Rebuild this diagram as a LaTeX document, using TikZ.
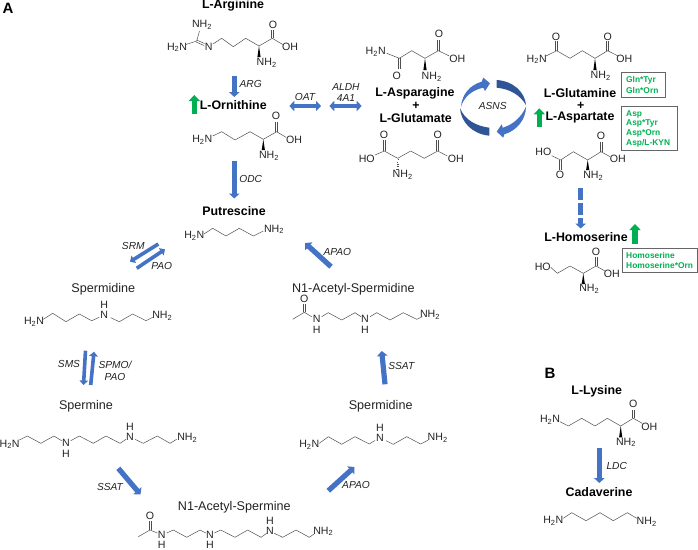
\documentclass[tikz,border=0pt]{standalone}
\usepackage{fontspec}
\setmainfont{Liberation Sans}
\usetikzlibrary{arrows.meta}
\definecolor{rxnblue}{HTML}{4472C4}
\definecolor{darkblue}{HTML}{2F5597}
\definecolor{upgreen}{HTML}{00B050}
\definecolor{inkgray}{HTML}{222222}
\newcommand{\Htwo}{H\textsubscript{2}N}
\newcommand{\NHtwo}{NH\textsubscript{2}}
\tikzset{
  bond/.style={draw=inkgray!80,line width=0.5pt,line join=round},
  wedgefill/.style={fill=black,draw=none},
  atom/.style={font=\fontsize{10.6}{10.6}\selectfont,text=inkgray,inner sep=0pt,anchor=center},
  cpdbold/.style={font=\fontsize{12.4}{12.4}\selectfont\bfseries,text=black,inner sep=0pt},
  cpd/.style={font=\fontsize{12.6}{12.6}\selectfont,text=inkgray,inner sep=0pt},
  enz/.style={font=\fontsize{10.2}{10.2}\selectfont\itshape,text=inkgray,inner sep=0pt,align=center},
  panel/.style={font=\fontsize{15}{15}\selectfont\bfseries,inner sep=0pt},
  rxn/.style={draw=rxnblue,line width=5.2pt,-{Triangle[length=5pt,width=10.5pt]}},
  rxnthin/.style={draw=rxnblue,line width=3.6pt,-{Triangle[length=4.5pt,width=8.5pt]}},
  rxnboth/.style={draw=rxnblue,line width=3.6pt,{Triangle[length=5pt,width=10pt]}-{Triangle[length=5pt,width=10pt]}},
  updash/.style={draw=upgreen,line width=5.2pt,-{Triangle[length=6pt,width=11pt]}},
  statbox/.style={draw=black!60,line width=0.7pt},
  stat/.style={font=\fontsize{8.4}{8.4}\selectfont\bfseries,text=upgreen,anchor=west,inner sep=0pt}
}
\newcommand{\rxnarrow}[4][rxn]{%
  \coordinate (#2s) at (#3); \coordinate (#2e) at (#4);
  \draw[#1] (#2s) -- (#2e);}
\newcommand{\wdg}[3]{\fill[wedgefill] (#1,#2) -- (#1-1.6,#3) -- (#1+1.6,#3) -- cycle;}
\newcommand{\hashwdg}[3]{\foreach \t in {0.1,0.3,0.5,0.7,0.9}{\draw[bond,line width=0.45pt] ({#1-1.6*\t},{#2+(#3-#2)*\t}) -- ({#1+1.6*\t},{#2+(#3-#2)*\t});}}
\newcommand{\dbl}[4]{\draw[bond] (#1-1,#2) -- (#3-1,#4); \draw[bond] (#1+1,#2) -- (#3+1,#4);}
\begin{document}
\begin{tikzpicture}[x=1pt,y=-1pt]
\useasboundingbox (0,0) rectangle (698,549);
\node[panel] (panelA) at (8,8) {A};
\node[panel] (panelB) at (550,373) {B};

% L-Arginine
\node[cpdbold] (arg) at (233,5.5) {L-Arginine};
\node[atom] (argn1) at (202,25) {\NHtwo};
\node[atom] (argn2) at (177,47.3) {\Htwo};
\node[atom] (argn3) at (208.7,47.3) {N};
\node[atom] (argo) at (273,25) {O};
\node[atom] (argoh) at (290,47.3) {OH};
\node[atom] (argn4) at (266.7,62.7) {\NHtwo};
\draw[bond] (186,44.5) -- (196.7,41) -- (199.5,31);
\draw[bond] (196.7,40) -- (204.5,43.5) (196.2,42) -- (204,45.5);
\draw[bond] (213,44) -- (221.7,38.3) -- (233.3,46.7) -- (245.7,38.3) -- (259,46) -- (272.3,38.3) -- (282.7,44.5);
\dbl{272.3}{38.3}{272.3}{30}
\wdg{259}{46}{57}

% ARG
\rxnarrow{argarr}{234.3,75.7}{234.3,97}
\node[enz] (argenz) at (250.7,84) {ARG};

% L-Ornithine
\node[cpdbold] (orn) at (233.3,105.5) {L-Ornithine};
\rxnarrow[updash]{ornup}{194.3,113.5}{194.3,95}
\node[atom] (ornn1) at (202.3,140) {\Htwo};
\node[atom] (orno) at (276,116) {O};
\node[atom] (ornoh) at (294,140) {OH};
\node[atom] (ornn2) at (269,156) {\NHtwo};
\draw[bond] (212.7,136) -- (221.7,131.7) -- (235,140) -- (250,131.7) -- (263.3,139.3) -- (276.7,131.7) -- (286,137.3);
\dbl{276.7}{131.7}{276.7}{122}
\wdg{263.3}{139.3}{150}

% OAT / ALDH
\rxnarrow[rxnboth]{oat}{289.3,106}{321,106}
\node[enz] (oatenz) at (305,97.3) {OAT};
\rxnarrow[rxnboth]{aldh}{329.3,106}{361.7,106}
\node[enz] (aldhenz) at (346,92.5) {ALDH\\[1pt]4A1};

% ODC
\rxnarrow{odc}{234.3,160.7}{234.3,198.5}
\node[enz] (odcenz) at (250.7,179.3) {ODC};

% Putrescine
\node[cpdbold] (put) at (234,211) {Putrescine};
\node[atom] (putn1) at (194.3,236) {\Htwo};
\node[atom] (putn2) at (274,229.3) {\NHtwo};
\draw[bond] (204,234) -- (212.7,228.3) -- (226,236) -- (239.3,228.3) -- (253.3,236) -- (263.3,231);

% L-Asparagine
\node[atom] (asnn1) at (375.7,51.7) {\Htwo};
\node[atom] (asno1) at (439,34.3) {O};
\node[atom] (asnoh) at (457.3,59) {OH};
\node[atom] (asno2) at (396.7,75.7) {O};
\node[atom] (asnn2) at (431.7,76.7) {\NHtwo};
\draw[bond] (386.7,53.3) -- (399.3,58.3) -- (411.7,50.7) -- (425,58.3) -- (438.3,50.7) -- (449.3,56);
\dbl{438.3}{50.7}{438.3}{40}
\dbl{399.3}{58.3}{399.3}{69.3}
\wdg{425}{58.3}{70}
\node[cpdbold] (asn) at (415,93.3) {L-Asparagine};
\node[cpdbold] (plus1) at (416,105.7) {+};
\node[cpdbold] (glu) at (415.7,117.7) {L-Glutamate};

% Glutamate
\node[atom] (gluoh1) at (366.7,159) {HO};
\node[atom] (gluoh2) at (455.7,159) {OH};
\node[atom] (gluo1) at (384,135) {O};
\node[atom] (gluo2) at (437.7,135) {O};
\node[atom] (glun) at (402.7,175) {\NHtwo};
\draw[bond] (375,155) -- (384.3,151) -- (397.7,158.3) -- (410.7,151) -- (424.3,158.3) -- (437.7,151) -- (447.3,156);
\dbl{384.3}{151}{384.3}{140}
\dbl{437.7}{151}{437.7}{140}
\hashwdg{397.7}{158.3}{170}

% ASNS cycle
\fill[rxnblue] (461,106.7) .. controls (462,94) and (470,85) .. (481.7,81.7) -- (483.3,77.7) -- (490,83.3) -- (485,91) -- (483.3,87.7) .. controls (472,90) and (464,97) .. cycle;
\fill[darkblue] (460,108.3) .. controls (461,122) and (472,134) .. (489.3,135.7) -- (489.3,127.7) .. controls (476,126) and (465,120) .. cycle;
\fill[darkblue] (496.7,80) .. controls (513,81) and (525,92) .. (526,105) .. controls (520,95) and (510,89) .. (496.7,87.7) -- cycle;
\fill[rxnblue] (526,106.7) .. controls (526,120) and (516,131) .. (504.3,134.3) -- (503.3,137.7) -- (496.7,131.7) -- (501.7,124.3) -- (502.7,127.7) .. controls (512,125) and (521,118) .. cycle;
\node[enz] (asns) at (492.7,105.5) {ASNS};

% L-Glutamine
\node[atom] (glnn1) at (536.7,59.3) {\Htwo};
\node[atom] (glno1) at (556,36.7) {O};
\node[atom] (glno2) at (607.7,36.7) {O};
\node[atom] (glnoh) at (624.3,59.3) {OH};
\node[atom] (glnn2) at (600.7,76) {\NHtwo};
\draw[bond] (546,56) -- (556.7,50.7) -- (570,58.3) -- (582.3,50.7) -- (595,58.3) -- (607.7,50.7) -- (618,56);
\dbl{556.7}{50.7}{556.7}{41}
\dbl{607.7}{50.7}{607.7}{41}
\wdg{595}{58.3}{70}
\node[cpdbold] (gln) at (580,93.3) {L-Glutamine};
\node[cpdbold] (plus2) at (580.7,105.7) {+};
\node[cpdbold] (asp) at (580,118) {L-Aspartate};
\rxnarrow[updash]{aspup}{539.3,127}{539.3,108.3}

\node[statbox,minimum width=44pt,minimum height=25pt,inner sep=0pt] (box1) at (643.7,85.2) {};
\node[stat] (s1) at (626,80) {Gln*Tyr};
\node[stat] (s2) at (626,90.7) {Gln*Orn};
\node[statbox,minimum width=55.3pt,minimum height=44.4pt,inner sep=0pt] (box2) at (649.35,128.5) {};
\node[stat] (s3) at (626,114) {Asp};
\node[stat] (s4) at (626,123.7) {Asp*Tyr};
\node[stat] (s5) at (626,133.7) {Asp*Orn};
\node[stat] (s6) at (626,143.7) {Asp/L-KYN};

% Aspartate
\node[atom] (aspoh1) at (543.3,151.7) {HO};
\node[atom] (aspoh2) at (617.7,159.3) {OH};
\node[atom] (aspo1) at (601,136) {O};
\node[atom] (aspo2) at (560,175) {O};
\node[atom] (aspn) at (593.3,175.7) {\NHtwo};
\draw[bond] (551.7,155.7) -- (560.7,160) -- (573.3,151.7) -- (587.7,160) -- (601,151.7) -- (610,156.7);
\dbl{601}{151.7}{601}{141.7}
\dbl{560.7}{160}{560.7}{170}
\wdg{587.7}{160}{170}

% dashed arrow
\coordinate (das1) at (580.7,188.3); \coordinate (dae1) at (580.7,200);
\coordinate (das2) at (580.7,203.3); \coordinate (dae2) at (580.7,215);
\draw[draw=rxnblue,line width=5.2pt] (das1) -- (dae1);
\draw[draw=rxnblue,line width=5.2pt] (das2) -- (dae2);
\rxnarrow{das3}{580.7,218.3}{580.7,228.5}

% L-Homoserine
\node[cpdbold] (hom) at (586,236.7) {L-Homoserine};
\rxnarrow[updash]{homup}{635,243.5}{635,224}
\node[statbox,minimum width=75.3pt,minimum height=24.4pt,inner sep=0pt] (box3) at (659.65,260.5) {};
\node[stat] (s7) at (626,255) {Homoserine};
\node[stat] (s8) at (626,265) {Homoserine*Orn};
\node[atom] (homoh1) at (542.7,266.7) {HO};
\node[atom] (homoh2) at (611.7,274) {OH};
\node[atom] (homo) at (596,251.7) {O};
\node[atom] (homn) at (589.3,289) {\NHtwo};
\draw[bond] (550.7,267.3) -- (557.3,273.3) -- (570,266) -- (583.3,273.3) -- (596,266) -- (605,271);
\dbl{596}{266}{596}{256.7}
\wdg{583.3}{273.3}{284}

% SRM / PAO
\rxnarrow[rxnthin]{srm}{158.3,244}{130,261.7}
\rxnarrow[rxnthin]{pao}{136.7,268.3}{165,249.3}
\node[enz] (srmenz) at (133.3,246) {SRM};
\node[enz] (paoenz) at (161.7,266) {PAO};

% Spermidine left
\node[cpd] (spd1) at (103.3,289.3) {Spermidine};
\node[atom] (spd1n1) at (34,321.7) {\Htwo};
\node[atom] (spd1n2) at (104.3,315) {N};
\node[atom] (spd1h) at (104.3,304.8) {H};
\node[atom] (spd1n3) at (162.3,316) {\NHtwo};
\draw[bond] (43.3,319.3) -- (52.7,313.3) -- (66,321.7) -- (79.3,314) -- (91.7,320.7) -- (99.3,317.3);
\draw[bond] (110.7,317.7) -- (119.3,321.7) -- (132.7,314) -- (146,320.7) -- (152.7,317.3);

% SMS / SPMO
\rxnarrow[rxnthin]{sms}{85.5,350.7}{83.5,385}
\rxnarrow[rxnthin]{spmo}{90.7,385}{94,351.7}
\node[enz] (smsenz) at (69,364.3) {SMS};
\node[enz] (spmoenz) at (115,371) {SPMO/\\[2pt]PAO};

% Spermine
\node[cpd] (spm) at (86,406) {Spermine};
\node[atom] (spmn1) at (9.6,444.3) {\Htwo};
\node[atom] (spmn2) at (66,443.3) {N};
\node[atom] (spmh2) at (66,453.5) {H};
\node[atom] (spmn3) at (130,437.3) {N};
\node[atom] (spmh3) at (130,427.1) {H};
\node[atom] (spmn4) at (187.3,437.7) {\NHtwo};
\draw[bond] (19.3,440) -- (27.3,436) -- (40.7,443.3) -- (54,436) -- (61.7,440.7);
\draw[bond] (70.7,440.7) -- (79.3,436) -- (93.3,443.3) -- (106,436) -- (120,443.3) -- (126,439.3);
\draw[bond] (135,439.3) -- (143.3,443.3) -- (157.3,436) -- (170,443.3) -- (176.7,439.3);

% SSAT lower
\rxnarrow{ssat1}{118.3,468.3}{140.5,494.5}
\node[enz] (ssat1enz) at (110,486.7) {SSAT};

% N1-Acetyl-Spermine
\node[cpd] (nasp) at (234.3,507.3) {N1-Acetyl-Spermine};
\node[atom] (naspo) at (150,516) {O};
\node[atom] (naspn1) at (161.7,534.4) {N};
\node[atom] (nasph1) at (161.7,544.4) {H};
\node[atom] (naspn2) at (210,534.4) {N};
\node[atom] (nasph2) at (210,544.4) {H};
\node[atom] (naspn3) at (270,531) {N};
\node[atom] (nasph3) at (270,521) {H};
\node[atom] (naspn4) at (323.3,531.3) {\NHtwo};
\draw[bond] (138.3,536.7) -- (150,530) -- (157.3,533);
\dbl{150}{530}{150}{520.5}
\draw[bond] (166.7,533) -- (173.3,530) -- (186.7,537.3) -- (200,530) -- (205.8,533);
\draw[bond] (214.3,533) -- (220.7,530) -- (235,537.3) -- (247.7,530) -- (261,537.3) -- (266.7,533.3);
\draw[bond] (274.3,533.3) -- (282.7,537.3) -- (296,530) -- (309.3,537.3) -- (315,533.3);

% APAO lower
\rxnarrow{apao1}{328.3,490.7}{354.5,467}
\node[enz] (apao1enz) at (356,485) {APAO};

% Spermidine right
\node[cpd] (spd2) at (380.7,406) {Spermidine};
\node[atom] (spd2n1) at (309.3,445) {\Htwo};
\node[atom] (spd2n2) at (380,437.8) {N};
\node[atom] (spd2h) at (380,427.6) {H};
\node[atom] (spd2n3) at (437.7,437.7) {\NHtwo};
\draw[bond] (319.3,443.3) -- (328.3,436.7) -- (341.7,444.3) -- (355,436.7) -- (369.3,444) -- (375,440.5);
\draw[bond] (386,440.7) -- (393.3,444.3) -- (406.7,436.7) -- (420.7,444) -- (428.3,440);

% SSAT right
\rxnarrow{ssat2}{385,384.3}{381.7,351}
\node[enz] (ssat2enz) at (401.3,366) {SSAT};

% N1-Acetyl-Spermidine
\node[cpd] (nasd) at (353.3,289.3) {N1-Acetyl-Spermidine};
\node[atom] (nasdo) at (304.3,299.3) {O};
\node[atom] (nasdn1) at (316.7,319.2) {N};
\node[atom] (nasdh1) at (316.7,329.4) {H};
\node[atom] (nasdn2) at (365,319.2) {N};
\node[atom] (nasdh2) at (365,329.4) {H};
\node[atom] (nasdn3) at (430,315) {\NHtwo};
\draw[bond] (292.7,319.3) -- (304.3,312.3) -- (311.7,316.7);
\dbl{304.3}{312.3}{304.3}{303.5}
\draw[bond] (321.7,316.7) -- (328.3,312.7) -- (341.7,320) -- (355,312.7) -- (361,316.7);
\draw[bond] (370,316.7) -- (376.7,312.7) -- (390,320) -- (403.3,312.7) -- (416.7,319.3) -- (422.3,316.7);

% APAO upper
\rxnarrow{apao2}{331,266.7}{305,243}
\node[enz] (apao2enz) at (337.3,252.3) {APAO};

% L-Lysine
\node[cpdbold] (lys) at (596.7,391.7) {L-Lysine};
\node[atom] (lysn1) at (550,420) {\Htwo};
\node[atom] (lysoh) at (649.3,426.7) {OH};
\node[atom] (lyso) at (633.3,404.3) {O};
\node[atom] (lysn2) at (626,442.3) {\NHtwo};
\draw[bond] (560,421.7) -- (568.3,426) -- (581.7,418.3) -- (595,426) -- (607.3,418.3) -- (620.7,426) -- (633.3,418.3) -- (642.3,423.3);
\dbl{633.3}{418.3}{633.3}{410}
\wdg{620.7}{426}{437.3}

% LDC
\rxnarrow{ldc}{599.3,448.3}{599.3,483}
\node[enz] (ldcenz) at (616.7,465.7) {LDC};

% Cadaverine
\node[cpdbold] (cad) at (599,492.3) {Cadaverine};
\node[atom] (cadn1) at (553.3,521) {\Htwo};
\node[atom] (cadn2) at (646.7,521.7) {\NHtwo};
\draw[bond] (563.3,518.3) -- (571.7,512.7) -- (586,520.7) -- (600,512.7) -- (613.3,520.7) -- (627.3,512.7) -- (636.7,518.3);
\end{tikzpicture}
\end{document}
